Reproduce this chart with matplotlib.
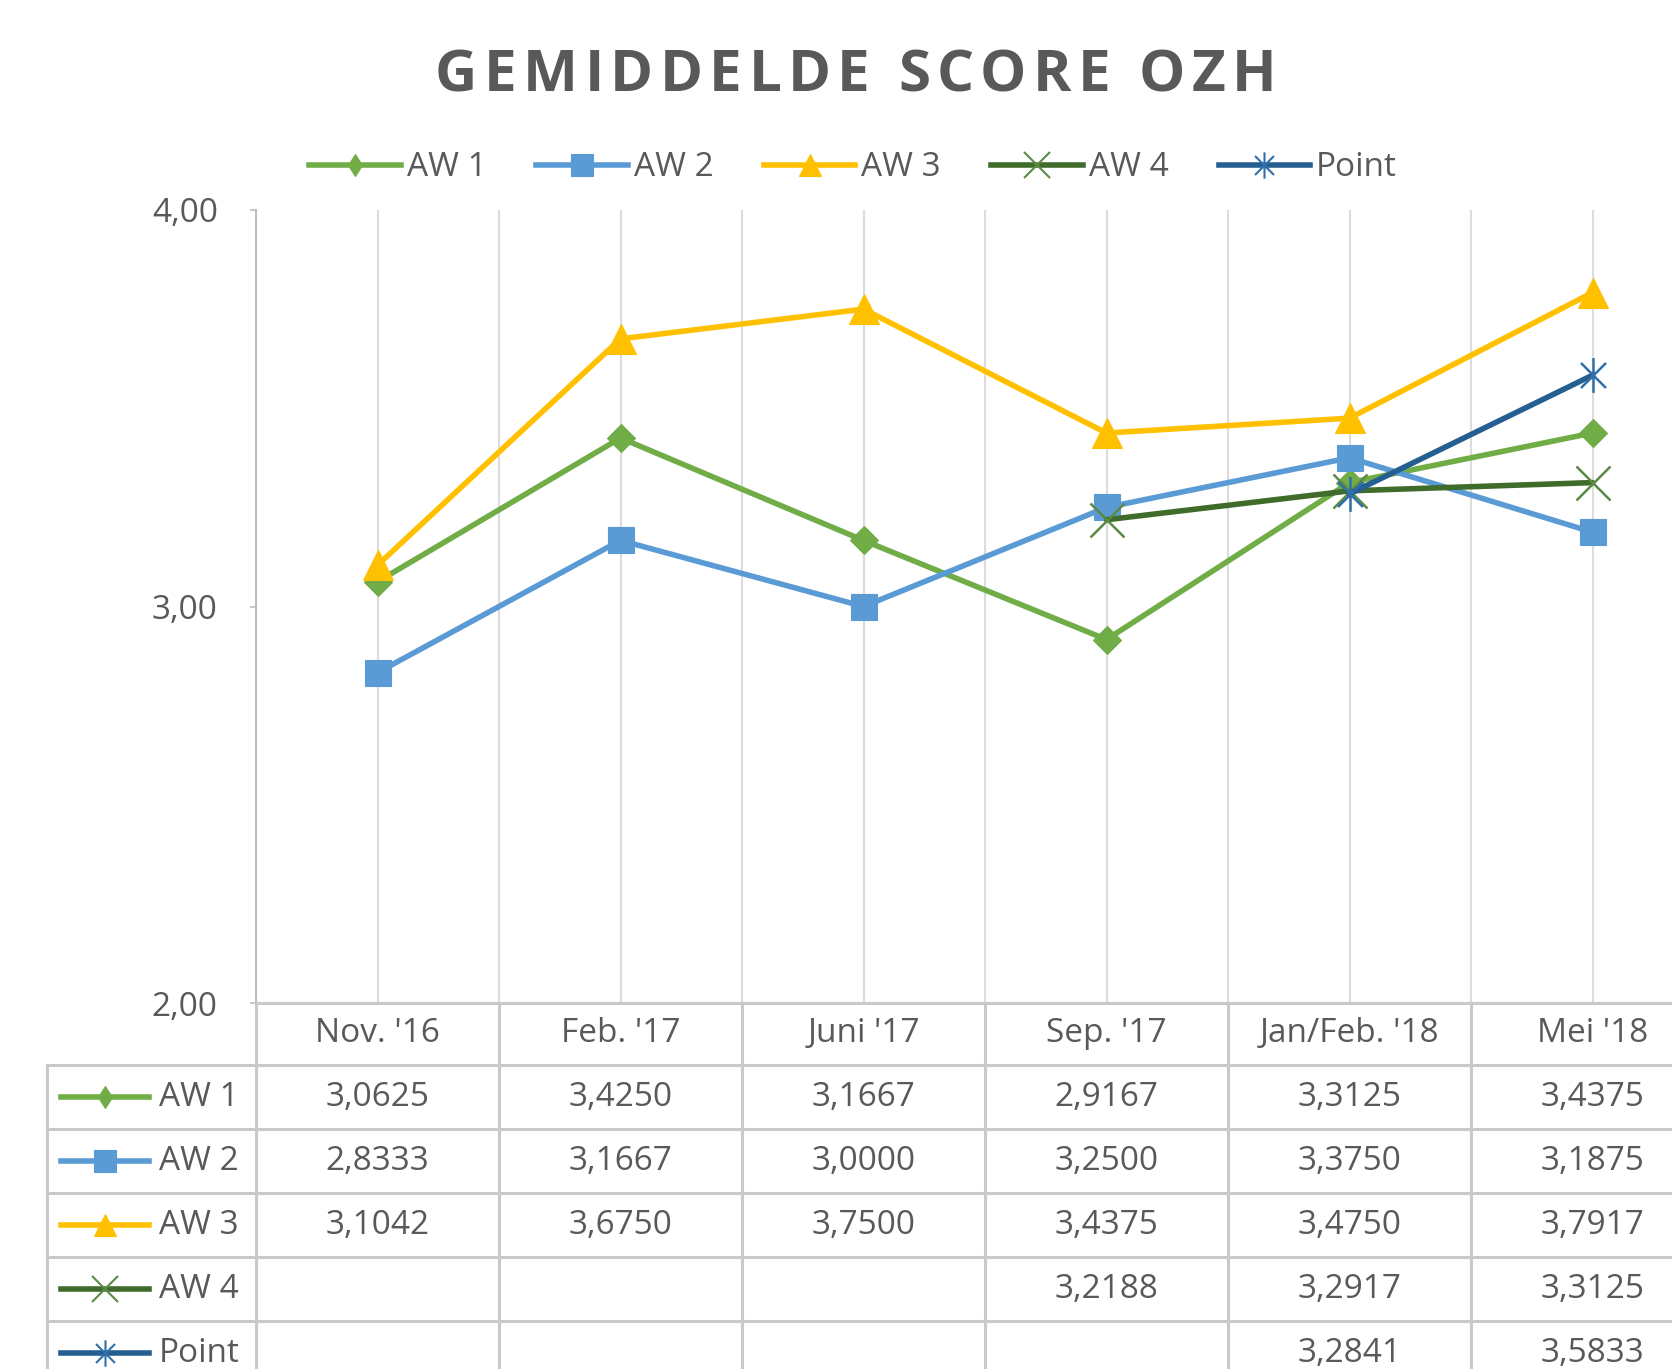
import numpy as np
import matplotlib
matplotlib.use("Agg")
import matplotlib.pyplot as plt
from matplotlib.lines import Line2D
from matplotlib.path import Path
from matplotlib.transforms import blended_transform_factory

# -------------------------------------------------------------------
# DATA
# -------------------------------------------------------------------
TITLE = "GEMIDDELDE SCORE OZH"
categories = ["Nov. '16", "Feb. '17", "Juni '17", "Sep. '17", "Jan/Feb. '18", "Mei '18"]
series_names = ["AW 1", "AW 2", "AW 3", "AW 4", "Point"]

aw1 = [3.0625, 3.4250, 3.1667, 2.9167, 3.3125, 3.4375]
aw2 = [2.8333, 3.1667, 3.0000, 3.2500, 3.3750, 3.1875]
aw3 = [3.1042, 3.6750, 3.7500, 3.4375, 3.4750, 3.7917]
aw4 = [np.nan, np.nan, np.nan, 3.2188, 3.2917, 3.3125]
point = [np.nan, np.nan, np.nan, np.nan, 3.2841, 3.5833]

y_ticks = [2.0, 3.0, 4.0]

# -------------------------------------------------------------------
# LAYOUT (pixels of the 1672 x 1369 canvas)
# -------------------------------------------------------------------
W, H = 1672, 1369
AX_LEFT = 256          # x of the value axis
CAT_W = 243            # width of one category
Y_TOP, Y_BOT = 210, 1003
TABLE_LEFT = 47
HEADER_BOT = 1065
ROW_H = 64

TEXT_COLOR = "#595959"
FONT = "Open Sans"
FS = 24

# asterisk marker: vertical bar + x
ASTERISK = Path(
    [(0, -1), (0, 1), (-0.72, -0.72), (0.72, 0.72), (-0.72, 0.72), (0.72, -0.72)],
    [Path.MOVETO, Path.LINETO] * 3,
)

# style per series: (color, marker, plot size, key marker, key size, filled, marker edge color)
STYLES = [
    ("#70AD47", "D", 14.0, "d", 11.5, True, "#70AD47"),
    ("#5B9BD5", "s", 19.0, "s", 16.0, True, "#5B9BD5"),
    ("#FFC000", "^", 21.5, "^", 16.5, True, "#FFC000"),
    ("#3F6B2B", "x", 24.0, "x", 19.0, False, "#5A8A45"),
    ("#255E91", ASTERISK, 25.0, ASTERISK, 19.0, False, "#2F6FAA"),
]


def px(x, y):
    return x / W, 1 - y / H


def fmt(v):
    return "" if np.isnan(v) else f"{v:.4f}".replace(".", ",")


def main():
    plt.rcParams["font.family"] = [FONT, "DejaVu Sans"]
    fig = plt.figure(figsize=(W / 100, H / 100), dpi=100)

    # main chart axes (extends beyond the right edge like the reference crop)
    ax = fig.add_axes([AX_LEFT / W, 1 - Y_BOT / H,
                       6 * CAT_W / W, (Y_BOT - Y_TOP) / H])
    ax.set_xlim(-0.5, 5.5)
    ax.set_ylim(2, 4)

    x = np.arange(len(categories))
    all_series = [aw1, aw2, aw3, aw4, point]
    for vals, (col, mk, ms, _, _, filled, mec) in zip(all_series, STYLES):
        ax.plot(x, vals, color=col, lw=4.0, marker=mk, ms=ms,
                mfc=col if filled else "none", mec=mec,
                mew=0.8 if filled else 1.8, solid_capstyle="round",
                solid_joinstyle="round", zorder=3)

    ax.set_yticks(y_ticks)
    ax.set_yticklabels([f"{v:.2f}".replace(".", ",") for v in y_ticks])
    ax.tick_params(axis="y", length=4.5, width=1.2, color="#BFBFBF",
                   pad=23, labelsize=FS, labelcolor=TEXT_COLOR)
    ax.set_xticks(x)
    ax.set_xticks(np.arange(-0.5, 6, 1.0), minor=True)
    ax.tick_params(axis="x", which="both", length=0, labelbottom=False)
    ax.grid(axis="x", which="both", color="#DCDCDC", lw=1.5, zorder=0)
    for s in ["top", "right"]:
        ax.spines[s].set_visible(False)
    ax.spines["left"].set_color("#BFBFBF")
    ax.spines["left"].set_linewidth(1.5)
    ax.spines["bottom"].set_color("#C9C9C9")
    ax.spines["bottom"].set_linewidth(2.2)

    # overlay in pixel coordinates for the data table
    ov = fig.add_axes([0, 0, 1, 1])
    ov.set_xlim(0, W)
    ov.set_ylim(H, 0)
    ov.axis("off")
    tx = blended_transform_factory(ax.transData, ov.transData)

    grid_col = "#C9C9C9"
    n_rows = len(series_names)
    row_edges = [HEADER_BOT + i * ROW_H for i in range(n_rows + 1)]

    # horizontal table lines
    ov.plot([AX_LEFT, W], [Y_BOT, Y_BOT], color=grid_col, lw=2.2)
    for yy in row_edges[:-1]:
        ov.plot([TABLE_LEFT, W], [yy, yy], color=grid_col, lw=2.2)
    # vertical table lines
    ov.plot([TABLE_LEFT, TABLE_LEFT], [HEADER_BOT, H], color=grid_col, lw=2.2)
    for b in np.arange(-0.5, 6, 1.0):
        ov.plot([b, b], [Y_BOT, H], color=grid_col, lw=2.2, transform=tx)

    # header row
    header_y = (Y_BOT + HEADER_BOT) / 2
    for i, cat in enumerate(categories):
        ov.text(i, header_y, cat, transform=tx, ha="center", va="center",
                fontsize=FS, color=TEXT_COLOR)

    # value rows with legend keys
    for r, (name, vals, st) in enumerate(zip(series_names, all_series, STYLES)):
        col, _, _, kmk, kms, filled, mec = st
        yc = row_edges[r] + ROW_H / 2
        ov.plot([61, 149], [yc, yc], color=col, lw=4.0)
        ov.plot([105], [yc], marker=kmk, ms=kms, color=col,
                mfc=col if filled else "none", mec=mec,
                mew=0.8 if filled else 1.5)
        ov.text(159, yc, name, ha="left", va="center", fontsize=FS,
                color=TEXT_COLOR)
        for i, v in enumerate(vals):
            s = fmt(v)
            if s:
                ov.text(i, yc, s, transform=tx, ha="center", va="center",
                        fontsize=FS, color=TEXT_COLOR)

    # legend
    handles = []
    for col, _, _, kmk, kms, filled, mec in STYLES:
        handles.append(Line2D([0], [0], color=col, lw=4.0, marker=kmk, ms=kms,
                              mfc=col if filled else "none", mec=mec,
                              mew=0.8 if filled else 1.5))
    fig.legend(handles, series_names, loc="center",
               bbox_to_anchor=px(853, 168), ncol=5, frameon=False,
               handlelength=2.75, handletextpad=0.18, columnspacing=1.5,
               fontsize=FS, labelcolor=TEXT_COLOR)

    # title with letter spacing
    renderer = fig.canvas.get_renderer()
    title_fs = 42
    t_left, t_right, t_base = 435, 1276, 91
    widths = []
    for ch in TITLE:
        if ch == " ":
            widths.append(title_fs * 100 / 72 * 0.26)
            continue
        t = fig.text(0, 0, ch, fontsize=title_fs, fontweight="bold")
        widths.append(t.get_window_extent(renderer).width)
        t.remove()
    track = (t_right - t_left - sum(widths)) / (len(TITLE) - 1)
    cx = t_left
    for ch, w in zip(TITLE, widths):
        if ch != " ":
            fig.text(*px(cx, t_base), ch, fontsize=title_fs, fontweight="bold",
                     color=TEXT_COLOR, ha="left", va="baseline")
        cx += w + track

    fig.savefig("out.png", dpi=100)


if __name__ == "__main__":
    main()
